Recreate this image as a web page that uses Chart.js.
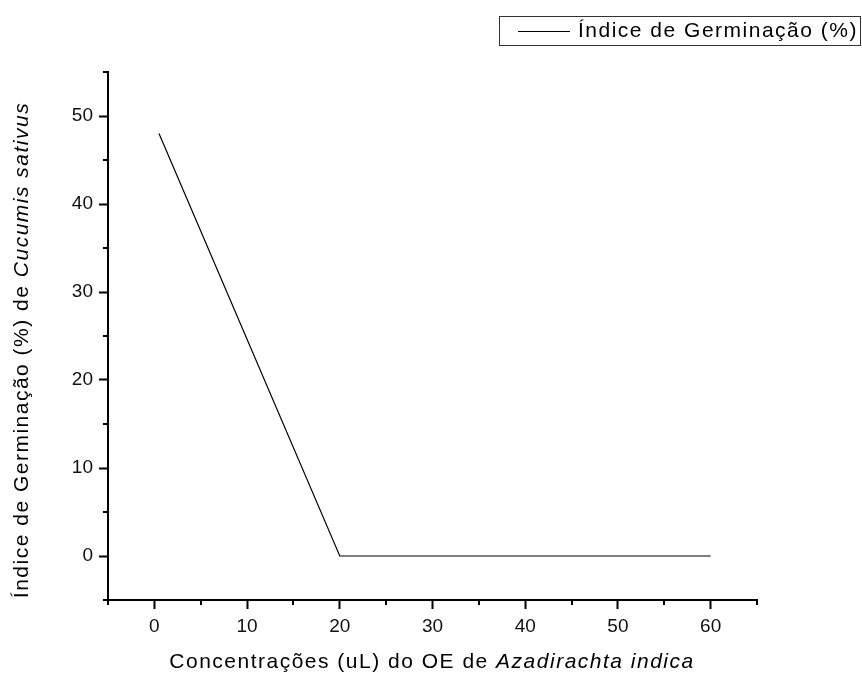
<!DOCTYPE html>
<html>
<head>
<meta charset="utf-8">
<script src="https://cdn.jsdelivr.net/npm/chart.js@4/dist/chart.umd.min.js"></script>
<style>
  html, body { margin: 0; padding: 0; background: #fff; }
</style>
</head>
<body>
<canvas id="myChart" width="862" height="673"></canvas>
<script>
// data
const concentrations = [0.5, 20, 60];
const germinationIndex = [48, 0, 0];
const seriesLabel = 'Índice de Germinação (%)';
const xTitleParts = ['Concentrações (uL) do OE de ', 'Azadirachta indica'];
const yTitleParts = ['Índice de Germinação (%) de ', 'Cucumis sativus'];

const FONT = '"Liberation Sans", Arial, sans-serif';

function drawMixed(c, parts, cx, cy, size, spacing) {
  c.letterSpacing = spacing + 'px';
  c.font = size + 'px ' + FONT;
  const w0 = c.measureText(parts[0]).width;
  c.font = 'italic ' + size + 'px ' + FONT;
  const w1 = c.measureText(parts[1]).width;
  const x0 = cx - (w0 + w1) / 2;
  c.textBaseline = 'middle';
  c.textAlign = 'left';
  c.font = size + 'px ' + FONT;
  c.fillText(parts[0], x0, cy);
  c.font = 'italic ' + size + 'px ' + FONT;
  c.fillText(parts[1], x0 + w0, cy);
  c.letterSpacing = '0px';
}

const extras = {
  id: 'extras',
  afterDraw(chart) {
    const c = chart.ctx;
    const xs = chart.scales.x, ys = chart.scales.y;
    c.save();
    c.strokeStyle = '#000';
    c.lineWidth = 2;
    // minor ticks (short)
    c.beginPath();
    xs.ticks.forEach(t => {
      if (t.value % 10 !== 0) {
        const px = Math.round(xs.getPixelForValue(t.value));
        c.moveTo(px, xs.top); c.lineTo(px, xs.top + 5);
      }
    });
    ys.ticks.forEach(t => {
      if (t.value % 10 !== 0) {
        const py = Math.round(ys.getPixelForValue(t.value));
        c.moveTo(ys.right, py); c.lineTo(ys.right - 5, py);
      }
    });
    c.stroke();

    // axis titles
    c.fillStyle = '#000';
    drawMixed(c, xTitleParts, 432, 662, 21, 1.5);
    c.save();
    c.translate(22, 350);
    c.rotate(-Math.PI / 2);
    drawMixed(c, yTitleParts, 0, 0, 21, 1.5);
    c.restore();

    // legend box
    c.lineWidth = 1;
    c.strokeStyle = '#333';
    c.strokeRect(499.5, 16.5, 361, 29);
    c.strokeStyle = '#000';
    c.beginPath();
    c.moveTo(518, 31.5); c.lineTo(570, 31.5);
    c.stroke();
    c.font = '21px ' + FONT;
    c.letterSpacing = '1.5px';
    c.textAlign = 'left';
    c.textBaseline = 'middle';
    c.fillText(chart.data.datasets[0].label, 578, 31);
    c.letterSpacing = '0px';
    c.restore();
  }
};

const ctx = document.getElementById('myChart');

new Chart(ctx, {
  type: 'line',
  data: {
    datasets: [{
      label: seriesLabel,
      data: concentrations.map((v, i) => ({ x: v, y: germinationIndex[i] })),
      borderColor: '#000',
      borderWidth: 1.2,
      pointRadius: 0,
      tension: 0,
      fill: false,
    }],
  },
  options: {
    responsive: false,
    animation: false,
    layout: { padding: { left: 0, top: 72, right: 105, bottom: 0 } },
    plugins: {
      legend: { display: false },
      tooltip: { enabled: false },
    },
    scales: {
      x: {
        type: 'linear',
        min: -5,
        max: 65,
        afterFit: (s) => { s.height = 73; },
        border: { display: true, color: '#000', width: 2 },
        grid: {
          drawOnChartArea: false,
          drawTicks: true,
          tickLength: 9,
          tickWidth: 2,
          tickColor: (c) => (c.tick && c.tick.value % 10 === 0 ? '#000' : 'rgba(0,0,0,0)'),
        },
        ticks: {
          stepSize: 5,
          autoSkip: false,
          maxRotation: 0,
          padding: 6,
          color: '#111',
          font: { family: FONT, size: 19 },
          callback: (v) => (v % 10 === 0 ? v : ''),
        },
      },
      y: {
        type: 'linear',
        min: -5,
        max: 55,
        afterFit: (s) => { s.width = 108; },
        border: { display: true, color: '#000', width: 2 },
        grid: {
          drawOnChartArea: false,
          drawTicks: true,
          tickLength: 9,
          tickWidth: 2,
          tickColor: (c) => (c.tick && c.tick.value % 10 === 0 ? '#000' : 'rgba(0,0,0,0)'),
        },
        ticks: {
          stepSize: 5,
          autoSkip: false,
          padding: 6,
          color: '#111',
          font: { family: FONT, size: 19 },
          callback: (v) => (v % 10 === 0 ? v : ''),
        },
      },
    },
  },
  plugins: [extras],
});
</script>
</body>
</html>
